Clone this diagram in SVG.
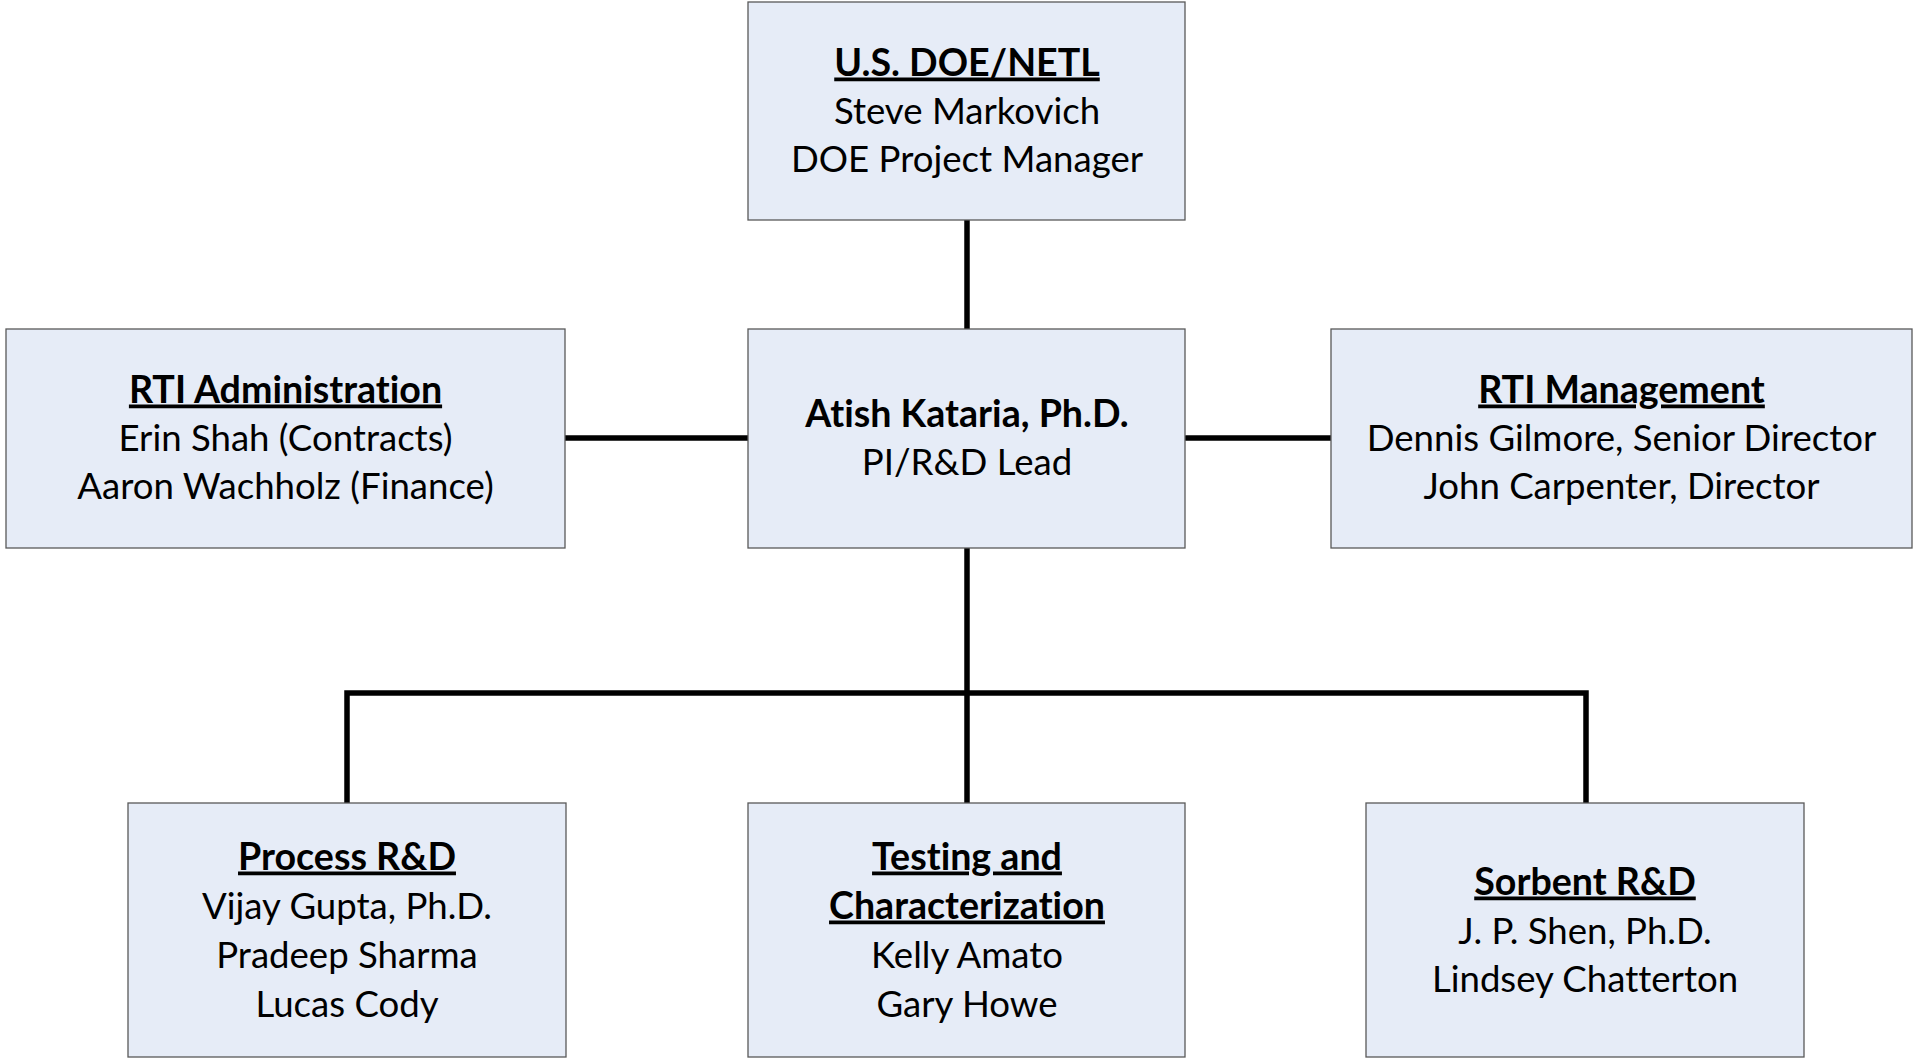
<svg xmlns="http://www.w3.org/2000/svg" width="1913" height="1058" viewBox="0 0 1913 1058">
<style>
.box{fill:#E6ECF7;stroke:#595959;stroke-width:1.3}
text{font-family:Lato,"Liberation Sans",sans-serif;font-size:36.6px;fill:#000;text-anchor:middle;font-variant-ligatures:none;font-feature-settings:"liga" 0,"clig" 0,"dlig" 0}
.h{font-weight:bold;font-size:37.6px;text-decoration:underline}
.b{font-weight:bold;font-size:37.6px}
.conn{stroke:#000;stroke-width:5.5;fill:none;stroke-linecap:round;stroke-linejoin:miter}
</style>
<rect width="1913" height="1058" fill="#fff"/>
<g id="connectors">
<line class="conn" x1="967" y1="220" x2="967" y2="329"/>
<line class="conn" x1="565" y1="438" x2="749" y2="438"/>
<line class="conn" x1="1186" y1="438" x2="1331" y2="438"/>
<line class="conn" x1="967" y1="548" x2="967" y2="803"/>
<path class="conn" d="M347 803 V693 H1586 V803"/>
</g>
<g id="doe">
<rect class="box" x="748" y="2" width="437" height="218"/>
<text x="967" y="75.5" class="h">U.S. DOE/NETL</text>
<text x="967" y="123.5">Steve Markovich</text>
<text x="967" y="171.5">DOE Project Manager</text>
</g>
<g id="admin">
<rect class="box" x="6" y="329" width="559" height="219"/>
<text x="285.5" y="402.5" class="h">RTI Administration</text>
<text x="285.5" y="450.5">Erin Shah (Contracts)</text>
<text x="285.5" y="498.5">Aaron Wachholz (Finance)</text>
</g>
<g id="pi">
<rect class="box" x="748" y="329" width="437" height="219"/>
<text x="967" y="426.5" class="b">Atish Kataria, Ph.D.</text>
<text x="967" y="474.5">PI/R&amp;D Lead</text>
</g>
<g id="mgmt">
<rect class="box" x="1331" y="329" width="581" height="219"/>
<text x="1621.5" y="402.5" class="h">RTI Management</text>
<text x="1621.5" y="450.5">Dennis Gilmore, Senior Director</text>
<text x="1621.5" y="498.5">John Carpenter, Director</text>
</g>
<g id="process">
<rect class="box" x="128" y="803" width="438" height="254"/>
<text x="347" y="869.5" class="h">Process R&amp;D</text>
<text x="347" y="918.5">Vijay Gupta, Ph.D.</text>
<text x="347" y="967.5">Pradeep Sharma</text>
<text x="347" y="1016.5">Lucas Cody</text>
</g>
<g id="testing">
<rect class="box" x="748" y="803" width="437" height="254"/>
<text x="967" y="869.5" class="h">Testing and</text>
<text x="967" y="918.5" class="h">Characterization</text>
<text x="967" y="967.5">Kelly Amato</text>
<text x="967" y="1016.5">Gary Howe</text>
</g>
<g id="sorbent">
<rect class="box" x="1366" y="803" width="438" height="254"/>
<text x="1585" y="894.5" class="h">Sorbent R&amp;D</text>
<text x="1585" y="943.5">J. P. Shen, Ph.D.</text>
<text x="1585" y="991.5">Lindsey Chatterton</text>
</g>
</svg>
